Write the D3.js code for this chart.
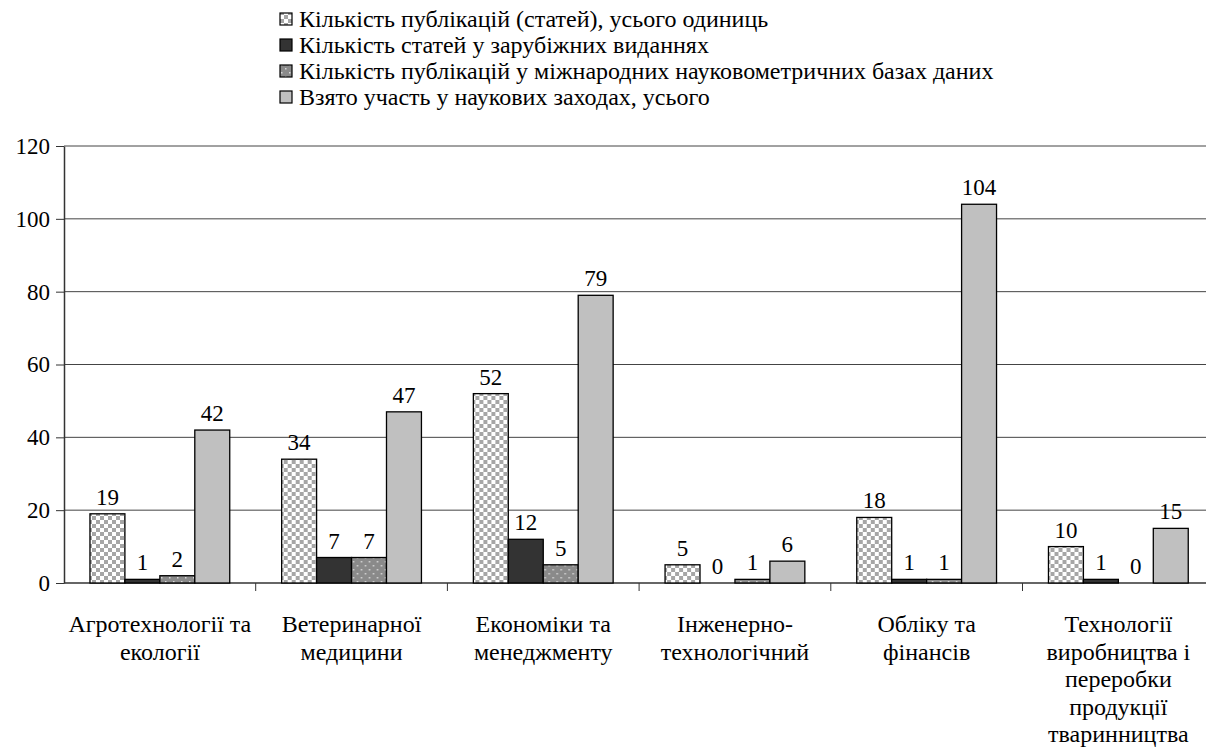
<!DOCTYPE html>
<html>
<head>
<meta charset="utf-8">
<script src="https://cdn.jsdelivr.net/npm/d3@7"></script>
<style>
  body { margin: 0; font-family: "Times New Roman", "Liberation Serif", serif; }
  svg, svg text, svg tspan { font-family: "Times New Roman", "Liberation Serif", serif; }
</style>
</head>
<body>
<div id="chart"></div>
<script>
// categories (faculties), split into the lines shown under the axis
const categories = [
  ["Агротехнології та", "екології"],
  ["Ветеринарної", "медицини"],
  ["Економіки та", "менеджменту"],
  ["Інженерно-", "технологічний"],
  ["Обліку та", "фінансів"],
  ["Технології", "виробництва і", "переробки", "продукції", "тваринництва"]
];

const seriesNames = [
  "Кількість публікацій (статей), усього одиниць",
  "Кількість статей у зарубіжних виданнях",
  "Кількість публікацій у міжнародних науковометричних базах даних",
  "Взято участь у наукових заходах, усього"
];

// values per series, in category order
const publications = [19, 34, 52, 5, 18, 10];
const foreignArticles = [1, 7, 12, 0, 1, 1];
const scientometric = [2, 7, 5, 1, 1, 0];
const events = [42, 47, 79, 6, 104, 15];

const yTicks = [0, 20, 40, 60, 80, 100, 120];

const width = 1206;
const height = 749;
const margin = {left: 64, top: 146, bottom: 166};
const plotRight = 64 + 6 * 191.7;
const fontName = "Times New Roman";

const svg = d3.select("#chart")
  .append("svg")
  .attr("width", width)
  .attr("height", height)
  .style("font-family", '"Times New Roman", "Liberation Serif", serif');

// fill patterns
const defs = svg.append("defs");

const checker = defs.append("pattern")
  .attr("id", "checker")
  .attr("patternUnits", "userSpaceOnUse")
  .attr("width", 8).attr("height", 8);
checker.append("rect").attr("width", 8).attr("height", 8).attr("fill", "#fff");
checker.append("rect").attr("width", 4).attr("height", 4).attr("fill", "#a6a6a6");
checker.append("rect").attr("x", 4).attr("y", 4).attr("width", 4).attr("height", 4).attr("fill", "#a6a6a6");

const dots = defs.append("pattern")
  .attr("id", "dots")
  .attr("patternUnits", "userSpaceOnUse")
  .attr("width", 8).attr("height", 8);
dots.append("rect").attr("width", 8).attr("height", 8).attr("fill", "#8a8a8a");
dots.append("rect").attr("x", 1).attr("y", 1).attr("width", 1.5).attr("height", 1.5).attr("fill", "#d8d8d8");
dots.append("rect").attr("x", 5).attr("y", 5).attr("width", 1.5).attr("height", 1.5).attr("fill", "#d8d8d8");

const fills = ["url(#checker)", "#333333", "url(#dots)", "#c0c0c0"];

const seriesValues = [publications, foreignArticles, scientometric, events];

// scales
const x0 = d3.scaleBand()
  .domain(d3.range(categories.length))
  .range([margin.left, plotRight]);

const x1 = d3.scaleBand()
  .domain(d3.range(seriesNames.length))
  .range([0, x0.bandwidth()])
  .paddingOuter(26 / 35);

const y = d3.scaleLinear()
  .domain([0, 120])
  .range([height - margin.bottom, margin.top]);

// gridlines
svg.append("g")
  .selectAll("line")
  .data(yTicks.filter(d => d > 0))
  .enter()
  .append("line")
  .attr("x1", margin.left)
  .attr("x2", plotRight)
  .attr("y1", d => y(d))
  .attr("y2", d => y(d))
  .attr("stroke", "#444")
  .attr("stroke-width", 1);

// y axis
const yAxis = svg.append("g")
  .attr("transform", `translate(${margin.left},0)`)
  .call(d3.axisLeft(y).tickValues(yTicks).tickSize(8).tickPadding(6).tickSizeOuter(0));
yAxis.attr("font-family", fontName).attr("font-size", 23);
yAxis.select(".domain").attr("stroke", "#333").attr("stroke-width", 1.5);
yAxis.selectAll(".tick line").attr("stroke", "#333");
yAxis.selectAll("text")
  .attr("font-family", fontName)
  .attr("fill", "#000");

// x axis line and category ticks
svg.append("line")
  .attr("x1", margin.left)
  .attr("x2", plotRight)
  .attr("y1", y(0))
  .attr("y2", y(0))
  .attr("stroke", "#333")
  .attr("stroke-width", 1.5);

svg.append("g")
  .selectAll("line")
  .data(d3.range(1, categories.length))
  .enter()
  .append("line")
  .attr("x1", d => x0(d))
  .attr("x2", d => x0(d))
  .attr("y1", y(0))
  .attr("y2", y(0) + 8)
  .attr("stroke", "#333");

// category labels
const catLabels = svg.append("g")
  .selectAll("text")
  .data(categories)
  .enter()
  .append("text")
  .attr("text-anchor", "middle")
  .attr("font-family", fontName)
  .attr("font-size", 24)
  .attr("transform", (d, i) => `translate(${x0(i) + x0.bandwidth() / 2},${y(0) + 49})`);
catLabels.selectAll("tspan")
  .data(d => d)
  .enter()
  .append("tspan")
  .attr("x", 0)
  .attr("y", (d, i) => i * 27.5)
  .text(d => d);

// bars
const groups = svg.append("g")
  .selectAll("g")
  .data(categories.map((c, i) => seriesValues.map((vals, s) => ({s: s, v: vals[i]}))))
  .enter()
  .append("g")
  .attr("transform", (d, i) => `translate(${x0(i)},0)`);

groups.selectAll("rect")
  .data(d => d.filter(e => e.v > 0))
  .enter()
  .append("rect")
  .attr("x", d => x1(d.s))
  .attr("y", d => y(d.v))
  .attr("width", x1.bandwidth())
  .attr("height", d => y(0) - y(d.v))
  .attr("fill", d => fills[d.s])
  .attr("stroke", "#000")
  .attr("stroke-width", 1.3);

groups.selectAll("text")
  .data(d => d)
  .enter()
  .append("text")
  .attr("x", d => x1(d.s) + x1.bandwidth() / 2)
  .attr("y", d => y(d.v) - 9)
  .attr("text-anchor", "middle")
  .attr("font-family", fontName)
  .attr("font-size", 23)
  .text(d => d.v);

// legend
const legend = svg.append("g")
  .selectAll("g")
  .data(seriesNames)
  .enter()
  .append("g")
  .attr("transform", (d, i) => `translate(280,${19 + i * 26})`);

legend.append("rect")
  .attr("x", 0)
  .attr("y", -6)
  .attr("width", 12)
  .attr("height", 12)
  .attr("fill", (d, i) => fills[i])
  .attr("stroke", "#000")
  .attr("stroke-width", 1.2);

legend.append("text")
  .attr("x", 19)
  .attr("y", 8)
  .attr("font-family", fontName)
  .attr("font-size", 24)
  .text(d => d);
</script>
</body>
</html>
